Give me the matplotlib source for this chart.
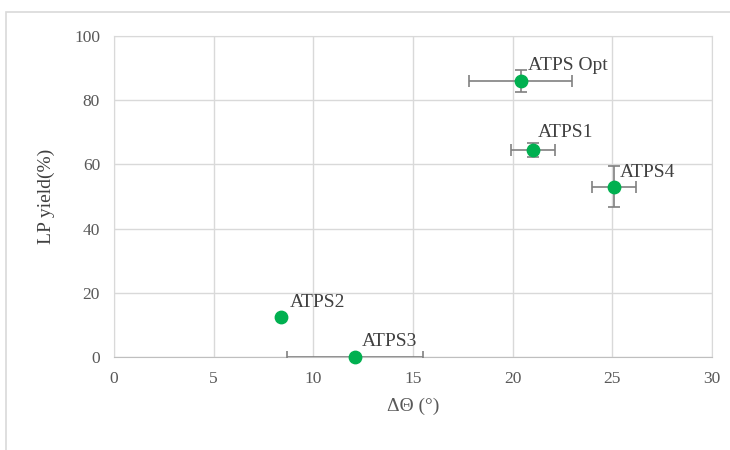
import matplotlib
matplotlib.use("Agg")
import matplotlib.pyplot as plt
from matplotlib.patches import Rectangle

# Systems, contact-angle change and LP yield with their errors
labels = ["ATPS Opt", "ATPS1", "ATPS4", "ATPS2", "ATPS3"]
delta_theta = [20.4, 21.0, 25.1, 8.4, 12.1]
delta_theta_err = [2.6, 1.1, 1.1, 0.0, 3.4]
lp_yield = [86.0, 64.5, 53.0, 12.5, 0.0]
lp_yield_err = [3.3, 2.3, 6.4, 0.0, 0.0]
label_offsets = [(5, 11), (4, 12.5), (4, 10), (6, 10), (5, 11)]

x_ticks = [0, 5, 10, 15, 20, 25, 30]
y_ticks = [0, 20, 40, 60, 80, 100]

plt.rcParams["font.family"] = ["Liberation Serif", "DejaVu Serif"]

figure = plt.figure(figsize=(7.3, 4.5), dpi=100)
figure.patches.append(Rectangle((6 / 730, -0.1), 1.2, 1.1 - 12 / 450,
                                transform=figure.transFigure, fill=False,
                                edgecolor="#D9D9D9", linewidth=1.2))
axis = figure.add_axes([114 / 730, 1 - 357 / 450, 598 / 730, 321 / 450])

axis.errorbar(delta_theta, lp_yield, xerr=delta_theta_err, yerr=lp_yield_err,
              fmt="none", ecolor="#808080", elinewidth=1.2, capsize=4, capthick=1.2,
              zorder=3)
axis.scatter(delta_theta, lp_yield, s=80, color="#00B050", zorder=4, clip_on=False)

for name, x, y, offset in zip(labels, delta_theta, lp_yield, label_offsets):
    axis.annotate(name, (x, y), xytext=offset, textcoords="offset points",
                  fontsize=14, color="#404040", ha="left", va="center")

axis.set_xlim(0, 30)
axis.set_ylim(0, 100)
axis.set_xticks(x_ticks)
axis.set_yticks(y_ticks)
axis.grid(True, color="#D9D9D9", linewidth=1.0)
axis.set_axisbelow(True)
for spine in axis.spines.values():
    spine.set_color("#D9D9D9")
axis.spines["bottom"].set_color("#BFBFBF")
axis.tick_params(length=0, labelsize=12.5, labelcolor="#595959", pad=10)

axis.set_xlabel("ΔΘ (°)", fontsize=14, color="#595959", labelpad=8)
axis.set_ylabel("LP yield(%)", fontsize=14, color="#404040", labelpad=14)

figure.savefig("out.png", dpi=100)
plt.close(figure)
